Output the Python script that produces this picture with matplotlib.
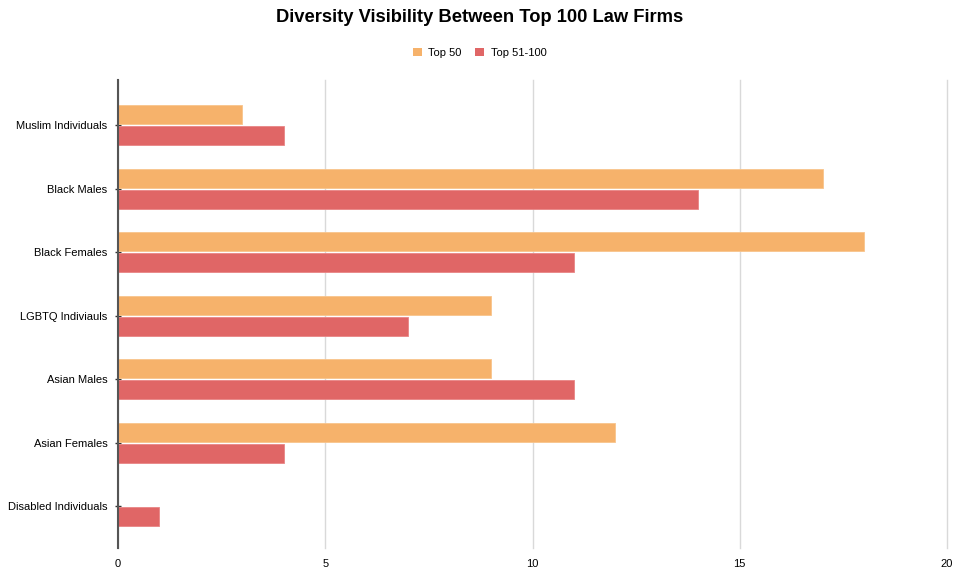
import numpy as np
import matplotlib.pyplot as plt
from matplotlib.patches import Patch

plt.rcParams['font.family'] = ['Liberation Sans', 'DejaVu Sans']

# データ
categories = ['Muslim Individuals', 'Black Males', 'Black Females', 'LGBTQ Indiviauls',
              'Asian Males', 'Asian Females', 'Disabled Individuals']
top_50 = [3, 17, 18, 9, 9, 12, 0]
top_51_100 = [4, 14, 11, 7, 11, 4, 1]
series_names = ['Top 50', 'Top 51-100']
x_ticks = [0, 5, 10, 15, 20]

orange = '#F6B26B'
red = '#E06666'

fig = plt.figure(figsize=(9.59, 5.68), dpi=100)
ax = fig.add_axes([118 / 959, 1 - 548 / 568, (947 - 118) / 959, (548 - 80) / 568])

y = np.arange(len(categories))
h = 0.30
ax.barh(y - h / 2 - 0.015, top_50, height=h, color=orange, edgecolor='#F8C48C', linewidth=0.6, zorder=3)
ax.barh(y + h / 2 + 0.015, top_51_100, height=h, color=red, edgecolor='#E98585', linewidth=0.6, zorder=3)

ax.set_xlim(0, 20)
ax.set_ylim(6.66, -0.71)
ax.set_xticks(x_ticks)
ax.set_yticks(y)
ax.set_yticklabels(categories, fontsize=8)
ax.grid(axis='x', color='#D9D9D9', linewidth=1, zorder=0)
for line in ax.get_xgridlines():
    line.set_clip_on(False)

for s in ['top', 'right', 'bottom']:
    ax.spines[s].set_visible(False)
ax.spines['left'].set_color('#555555')
ax.spines['left'].set_linewidth(1.5)
ax.spines['left'].set_zorder(4)

ax.tick_params(axis='x', length=0, labelsize=8, pad=8)
ax.tick_params(axis='y', length=5, width=1, color='#333333', direction='inout', pad=5)

fig.text(0.5, 1 - 18 / 568, 'Diversity Visibility Between Top 100 Law Firms',
         ha='center', va='center', fontsize=13.2, fontweight='bold')

handles = [Patch(facecolor=orange), Patch(facecolor=red)]
fig.legend(handles, series_names, loc='center', bbox_to_anchor=(0.5, 1 - 53 / 568),
           ncol=2, frameon=False, fontsize=8, handlelength=0.8, handleheight=0.8,
           columnspacing=1.2, handletextpad=0.6)

plt.savefig('out.png', dpi=100)
